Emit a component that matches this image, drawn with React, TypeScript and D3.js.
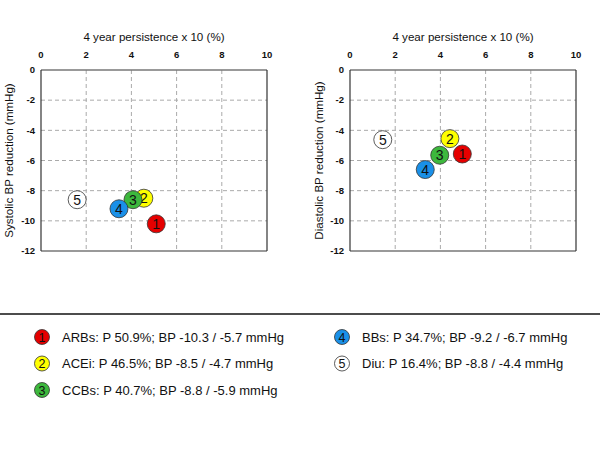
import React from 'react';
import * as d3 from 'd3';

const ids = ['1', '2', '3', '4', '5'];
const fills = ['#e50000', '#ffff00', '#3db83d', '#1a90e8', '#ffffff'];
const legendText = [
  'ARBs: P 50.9%; BP -10.3 / -5.7 mmHg',
  'ACEi: P 46.5%; BP -8.5 / -4.7 mmHg',
  'CCBs: P 40.7%; BP -8.8 / -5.9 mmHg',
  'BBs: P 34.7%; BP -9.2 / -6.7 mmHg',
  'Diu: P 16.4%; BP -8.8 / -4.4 mmHg',
];
// values, per panel
const sysX = [5.1, 4.55, 4.07, 3.45, 1.6];
const sysY = [-10.2, -8.5, -8.6, -9.2, -8.6];
const diaX = [4.97, 4.42, 3.97, 3.33, 1.45];
const diaY = [-5.57, -4.55, -5.65, -6.6, -4.62];
const xTicks = [0, 2, 4, 6, 8, 10];
const yTicks = [0, -2, -4, -6, -8, -10, -12];

const font = 'Arial, "Liberation Sans", sans-serif';

const Panel = ({ left, xs, ys, label, labelX }) => {
  const x = d3.scaleLinear().domain([0, 10]).range([left, left + 226]);
  const y = d3.scaleLinear().domain([0, -12]).range([70, 251]);
  return (
    <g>
      <text x={(x(0) + x(10)) / 2} y={41} textAnchor="middle" fontSize={11.6} fill="#111">
        4 year persistence x 10 (%)
      </text>
      <text
        transform={`translate(${labelX},${(y(0) + y(-12)) / 2}) rotate(-90)`}
        textAnchor="middle"
        dy="0.35em"
        fontSize={11.6}
        fill="#111"
      >
        {label}
      </text>
      {xTicks.slice(1, -1).map((t) => (
        <line key={'gx' + t} x1={x(t)} x2={x(t)} y1={y(0)} y2={y(-12)} stroke="#aaa" strokeDasharray="4,3" />
      ))}
      {yTicks.slice(1, -1).map((t) => (
        <line key={'gy' + t} x1={x(0)} x2={x(10)} y1={y(t)} y2={y(t)} stroke="#aaa" strokeDasharray="4,3" />
      ))}
      <line x1={x(0)} x2={x(10)} y1={y(0)} y2={y(0)} stroke="#777" strokeWidth={1.5} />
      <line x1={x(0)} x2={x(10)} y1={y(-12)} y2={y(-12)} stroke="#777" strokeWidth={1.5} />
      <line x1={x(0)} x2={x(0)} y1={y(0)} y2={y(-12)} stroke="#333" strokeWidth={1.2} />
      <line x1={x(10)} x2={x(10)} y1={y(0)} y2={y(-12)} stroke="#333" strokeWidth={1.2} />
      {xTicks.map((t) => (
        <text key={'tx' + t} x={x(t)} y={58} textAnchor="middle" fontSize={9.5} fontWeight="bold" fill="#111">
          {t}
        </text>
      ))}
      {yTicks.map((t) => (
        <text key={'ty' + t} x={x(0) - 6} y={y(t)} dy="0.35em" textAnchor="end" fontSize={9.5} fontWeight="bold" fill="#111">
          {t}
        </text>
      ))}
      {[4, 0, 1, 2, 3].map((i) => (
        <g key={'p' + i} transform={`translate(${x(xs[i])},${y(ys[i])})`}>
          <circle r={9} fill={fills[i]} stroke="#333" strokeWidth={0.8} />
          <text textAnchor="middle" dy="0.36em" fontSize={14} fill="#111">
            {ids[i]}
          </text>
        </g>
      ))}
    </g>
  );
};

export default function App() {
  const legendPos = [
    [42, 337],
    [42, 363.5],
    [42, 390],
    [342, 337],
    [342, 363.5],
  ];
  return (
    <svg width={600} height={450} style={{ display: 'block', position: 'absolute', left: 0, top: 0, fontFamily: font }}>
      <rect width={600} height={450} fill="#fff" />
      <Panel left={41} xs={sysX} ys={sysY} label="Systolic BP reduction (mmHg)" labelX={9} />
      <Panel left={350} xs={diaX} ys={diaY} label="Diastolic BP reduction (mmHg)" labelX={319} />
      <line x1={0} x2={600} y1={314} y2={314} stroke="#111" strokeWidth={1.6} />
      {ids.map((id, i) => (
        <g key={'l' + id} transform={`translate(${legendPos[i][0]},${legendPos[i][1]})`}>
          <circle r={7.5} fill={fills[i]} stroke="#333" strokeWidth={0.8} />
          <text textAnchor="middle" dy="0.36em" fontSize={12.5} fill="#111">
            {id}
          </text>
          <text x={20} dy="0.36em" fontSize={13} fill="#111">
            {legendText[i]}
          </text>
        </g>
      ))}
    </svg>
  );
}
